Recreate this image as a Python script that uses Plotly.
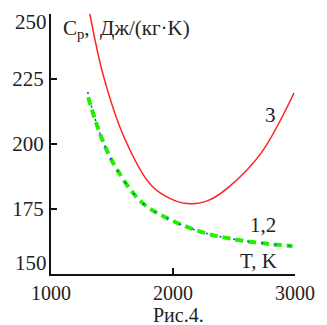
import plotly.graph_objects as go

# Curve 3 (red)
t3 = [1317, 1432, 1602, 1819, 2000, 2150, 2300, 2459, 2722, 2992]
c3 = [250.4, 225.8, 202.3, 184.2, 178.5, 177.0, 178.5, 183.5, 196.5, 219.6]

# Curve 1 (blue dotted)
t1 = [1301, 1409, 1533, 1741, 1973, 2259, 2537, 2799, 2990]
c1 = [220.0, 203.0, 190.8, 177.7, 171.0, 165.8, 163.1, 161.5, 160.7]

# Curve 2 (green dashed)
t2 = [1305, 1409, 1533, 1741, 1973, 2259, 2537, 2799, 2980]
c2 = [218.0, 203.0, 190.8, 177.7, 171.0, 165.8, 163.1, 161.5, 160.8]

x_ticks = [1000, 2000, 3000]
y_ticks = [150, 175, 200, 225, 250]

FONT = "'Liberation Serif', Tinos, 'Times New Roman', serif"
FS = 21

fig = go.Figure()
fig.add_trace(go.Scatter(x=t3, y=c3, mode="lines", line=dict(color="#ff2020", width=1.5, shape="spline", smoothing=1),
                         showlegend=False))
fig.add_trace(go.Scatter(x=t2, y=c2, mode="lines", line=dict(color="#22ee00", width=4, dash="8px,5px", shape="spline"),
                         showlegend=False))
fig.add_trace(go.Scatter(x=t1, y=c1, mode="lines", line=dict(color="#2233ff", width=1.5, dash="2px,12px", shape="spline"),
                         showlegend=False))

fig.update_layout(
    width=327, height=325,
    margin=dict(l=44, r=24, t=14, b=51),
    paper_bgcolor="white", plot_bgcolor="white",
    font=dict(family=FONT, size=FS, color="#222"),
    xaxis=dict(range=[1000, 3000], tickvals=x_ticks, ticktext=[str(v) for v in x_ticks],
               showgrid=False, zeroline=False, showline=True, linecolor="#111", linewidth=2,
               ticks="inside", ticklen=6, tickwidth=1.5, tickcolor="#111", ticklabelstandoff=0,
               tickfont=dict(family=FONT, size=20, color="#222")),
    yaxis=dict(range=[150, 250], tickvals=y_ticks,
               ticktext=["", "175", "200", "225", ""],
               showgrid=False, zeroline=False, showline=True, linecolor="#111", linewidth=2,
               ticks="inside", ticklen=6, tickwidth=1.5, tickcolor="#111", ticklabelstandoff=1,
               tickfont=dict(family=FONT, size=FS, color="#222")),
)

# Edge tick labels shifted inward
fig.add_annotation(x=0, xref="paper", xanchor="right", xshift=-2, y=250, yref="y", yshift=-8,
                   text="250", showarrow=False, font=dict(family=FONT, size=FS, color="#222"))
fig.add_annotation(x=0, xref="paper", xanchor="right", xshift=-2, y=150, yref="y", yshift=11,
                   text="150", showarrow=False, font=dict(family=FONT, size=FS, color="#222"))

# Axis title and curve labels
fig.add_annotation(x=0.04, xref="paper", xanchor="left", y=1, yref="paper", yanchor="top", yshift=0,
                   text="C<sub>p</sub>,  Дж/(кг·K)", showarrow=False,
                   font=dict(family=FONT, size=FS, color="#222"))
fig.add_annotation(x=2800, y=211, text="3", showarrow=False, font=dict(family=FONT, size=FS, color="#222"))
fig.add_annotation(x=2740, y=169, text="1,2", showarrow=False, font=dict(family=FONT, size=FS, color="#222"))
fig.add_annotation(x=2700, y=155, text="T, K", showarrow=False, font=dict(family=FONT, size=FS, color="#222"))
fig.add_annotation(x=0.5, xref="paper", y=0, yref="paper", yshift=-41, yanchor="middle", xshift=5,
                   text="Рис.4.", showarrow=False, font=dict(family=FONT, size=20, color="#222"))

fig.write_html("out.html")
